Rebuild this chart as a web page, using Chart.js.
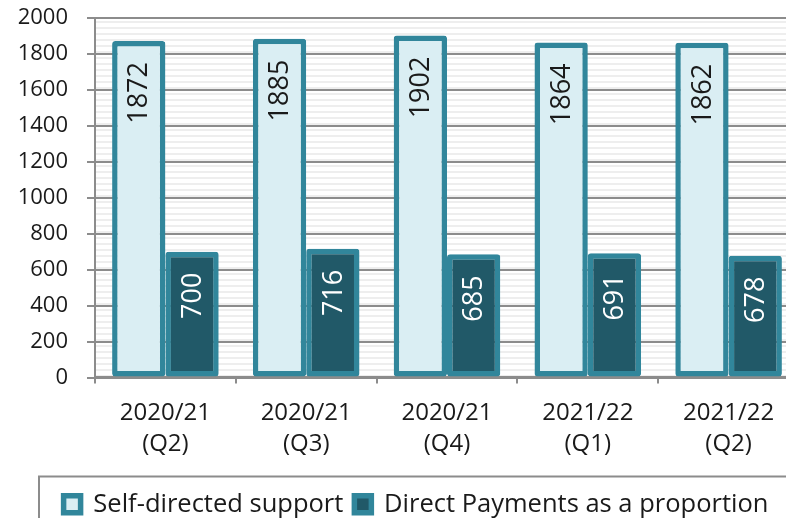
<!DOCTYPE html>
<html>
<head>
<meta charset="utf-8">
<script src="https://cdn.jsdelivr.net/npm/chart.js@4/dist/chart.umd.min.js"></script>
<style>
  html, body { margin: 0; padding: 0; overflow: hidden; background: #fff; }
  #wrap { width: 800px; height: 540px; }
</style>
</head>
<body>
<div id="wrap"><canvas id="c" width="800" height="540"></canvas></div>
<script>
const quarters = [['2020/21', '(Q2)'], ['2020/21', '(Q3)'], ['2020/21', '(Q4)'], ['2021/22', '(Q1)'], ['2021/22', '(Q2)']]
const selfDirected = [1872, 1885, 1902, 1864, 1862]
const directPayments = [700, 716, 685, 691, 678]
const yTicks = [0, 200, 400, 600, 800, 1000, 1200, 1400, 1600, 1800, 2000]

const teal = '#31869b'
const FONT = 'Open Sans'

// light horizontal stripe fill behind the plot
const stripes = {
  id: 'stripes',
  beforeDraw(chart) {
    let {ctx, chartArea: a} = chart
    ctx.save()
    ctx.fillStyle = '#fff'
    ctx.fillRect(a.left, a.top, a.right - a.left, a.bottom - a.top)
    ctx.fillStyle = '#eeeeee'
    for (let y = a.top + 3; y < a.bottom; y += 6)
      ctx.fillRect(a.left, y, a.right - a.left, 2)
    ctx.restore()
  }
}

// rotated value labels near the top of each bar
const barLabels = {
  id: 'barLabels',
  afterDatasetsDraw(chart) {
    let ctx = chart.ctx
    ctx.save()
    ctx.font = '27px "' + FONT + '"'
    ctx.textAlign = 'right'
    ctx.textBaseline = 'middle'
    chart.data.datasets.forEach((ds, i) => {
      chart.getDatasetMeta(i).data.forEach((bar, j) => {
        ctx.save()
        ctx.translate(bar.x, bar.y + 21)
        ctx.rotate(-Math.PI / 2)
        ctx.fillStyle = i == 0 ? '#1a1a1a' : '#ffffff'
        ctx.fillText(ds.data[j], 0, 1)
        ctx.restore()
      })
    })
    ctx.restore()
  }
}

// shift the legend a little to the right and frame it
const legendFrame = {
  id: 'legendFrame',
  afterLayout(chart) {
    chart.legend.left += 33
  },
  afterDraw(chart) {
    let ctx = chart.ctx
    let l = chart.legend
    ctx.save()
    ctx.strokeStyle = '#8c8c8c'
    ctx.lineWidth = 2
    ctx.strokeRect(39, l.top - 4, 800, 100)
    ctx.restore()
  }
}

Chart.defaults.font.family = FONT
Chart.defaults.font.size = 22
Chart.defaults.color = '#1a1a1a'

new Chart(document.getElementById('c'), {
  type: 'bar',
  data: {
    labels: quarters,
    datasets: [
      {
        label: 'Self-directed support',
        data: selfDirected,
        backgroundColor: '#daeef3',
        borderColor: teal,
        borderWidth: 5.5,
        borderRadius: 3,
        borderSkipped: false
      },
      {
        label: 'Direct Payments as a proportion',
        data: directPayments,
        backgroundColor: '#215968',
        borderColor: teal,
        borderWidth: 5.5,
        borderRadius: 3,
        borderSkipped: false
      }
    ]
  },
  options: {
    animation: false,
    responsive: false,
    layout: { padding: { top: 0, left: 0, right: 1, bottom: 13 } },
    datasets: { bar: { categoryPercentage: 0.757, barPercentage: 1 } },
    plugins: {
      tooltip: { enabled: false },
      legend: {
        position: 'bottom',
        labels: {
          boxWidth: 17,
          boxHeight: 17,
          padding: 11,
          color: '#1a1a1a',
          font: { size: 25.5 }
        }
      }
    },
    scales: {
      x: {
        afterFit: s => { s.height = 103 },
        grid: { drawOnChartArea: false, drawTicks: true, tickLength: 6, color: '#8c8c8c', lineWidth: 2 },
        border: { color: '#8c8c8c', width: 2.5 },
        ticks: { padding: 14, font: { size: 24, lineHeight: 1.3 } }
      },
      y: {
        min: 0,
        max: 2000,
        afterFit: s => { s.width = 95; s.paddingTop = 18 },
        afterBuildTicks: s => { s.ticks = yTicks.map(v => ({ value: v })) },
        grid: { color: '#8c8c8c', lineWidth: 2, tickLength: 8 },
        border: { color: '#8c8c8c', width: 2 },
        ticks: { padding: 19, autoSkip: false, callback: v => String(v) }
      }
    }
  },
  plugins: [stripes, barLabels, legendFrame]
})
</script>
</body>
</html>
